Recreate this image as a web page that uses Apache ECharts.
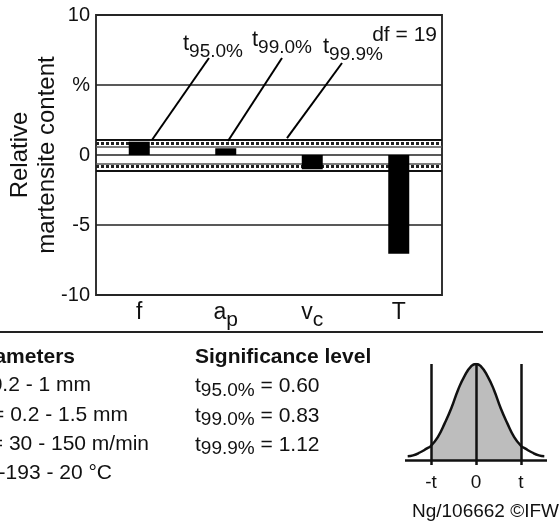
<!DOCTYPE html>
<html>
<head>
<meta charset="utf-8">
<script src="https://cdn.jsdelivr.net/npm/echarts@6/dist/echarts.min.js"></script>
<style>
  html, body { margin: 0; padding: 0; background: #fff; }
  #chart { width: 560px; height: 526px; }
</style>
</head>
<body>
<div id="chart"></div>
<script>
// effect of each parameter on relative martensite content (%)
const catMain = ["f", "a", "v", "T"];
const catSub = ["", "p", "c", ""];
const effects = [0.95, 0.48, -1.02, -7.05];

// t-test limits, df = 19
const tLevels = ["95.0%", "99.0%", "99.9%"];
const tValues = [0.60, 0.83, 1.12];
const dfValue = 19;

const yTicks = [-10, -5, 0, 5, 10];
const yTickLabels = ["-10", "-5", "0", "%", "10"];

// parameter ranges
const paramMain = ["f", "a", "v", "T"];
const paramSub = ["", "p", "c", ""];
const paramRanges = ["0.2 - 1 mm", "0.2 - 1.5 mm", "30 - 150 m/min", "-193 - 20 °C"];

// sketch of the t distribution (x in units of t, relative height)
const curveX = [-1.52, -1.4, -1.25, -1.1, -1.0, -0.85, -0.7, -0.55, -0.4, -0.25, -0.1, 0,
  0.1, 0.25, 0.4, 0.55, 0.7, 0.85, 1.0, 1.1, 1.25, 1.4, 1.52];
const curveY = [0.04, 0.05, 0.08, 0.12, 0.15, 0.24, 0.38, 0.54, 0.73, 0.88, 0.98, 1.0,
  0.98, 0.88, 0.73, 0.54, 0.38, 0.24, 0.15, 0.12, 0.08, 0.05, 0.04];
const tMarks = [-1, 0, 1];
const tMarkLabels = ["-t", "0", "t"];

const FONT = "'Liberation Sans', Arial, sans-serif";

var chartDom = document.getElementById("chart");
var myChart = echarts.init(chartDom);

const curveData = curveX.map((x, i) => [x, curveY[i]]);
const areaData = curveData.filter(p => Math.abs(p[0]) <= 1);

// limit lines, drawn under the bars
const limitLines = [];
tValues.forEach((v, i) => {
  const st = i === 2 ? { color: "#111", width: 2, type: "solid" }
    : i === 1 ? { color: "#222", width: 3, type: [3, 2] }
    : { color: "#555", width: 1.5, type: "solid" };
  limitLines.push({ yAxis: v, lineStyle: st });
  limitLines.push({ yAxis: -v, lineStyle: st });
});

// leader lines from the t labels to the limit band
const leaders = [
  [[1.306, 6.93], [0.647, 1.07]],
  [[2.15, 6.93], [1.526, 1.0]],
  [[2.844, 6.57], [2.208, 1.21]]
];

const subRich = {
  t: { fontSize: 22, fontFamily: FONT, verticalAlign: "bottom", padding: [0, 0, 6, 0] },
  s: { fontSize: 19, fontFamily: FONT, verticalAlign: "bottom" }
};
const botRich = {
  t: { fontSize: 21, fontFamily: FONT, verticalAlign: "bottom", padding: [0, 0, 3, 0] },
  s: { fontSize: 19, fontFamily: FONT, verticalAlign: "bottom" },
  n: { fontSize: 21, fontFamily: FONT, verticalAlign: "bottom", padding: [0, 0, 3, 0] }
};

const graphics = [];
// t labels above the leader lines
const leaderLabelPos = [[183, 47], [252, 43], [323, 50]];
tLevels.forEach((lv, i) => {
  graphics.push({
    type: "text", x: leaderLabelPos[i][0], y: leaderLabelPos[i][1],
    style: { text: "{t|t}{s|" + lv + "}", rich: subRich, fill: "#111", align: "left", verticalAlign: "middle" }
  });
});
graphics.push({
  type: "text", x: 437, y: 35,
  style: { text: "df = " + dfValue, font: "21px " + FONT, fill: "#111", align: "right", verticalAlign: "middle" }
});
// separator
graphics.push({
  type: "line", shape: { x1: 0, y1: 332, x2: 543, y2: 332 },
  style: { stroke: "#222", lineWidth: 2 }
});
// parameter column (cut at the left edge)
graphics.push({
  type: "text", x: 75, y: 357,
  style: { text: "Parameters", font: "bold 21px " + FONT, fill: "#111", align: "right", verticalAlign: "middle" }
});
const paramEnds = [91, 128, 149, 112];
paramRanges.forEach((r, i) => {
  const head = paramSub[i] ? "{n|" + paramMain[i] + "}{s|" + paramSub[i] + "}" : "{n|" + paramMain[i] + "}";
  graphics.push({
    type: "text", x: paramEnds[i], y: 387 + i * 29.3,
    style: { text: head + "{n| = " + r + "}", rich: botRich, fill: "#111", align: "right", verticalAlign: "middle" }
  });
});
// significance column
graphics.push({
  type: "text", x: 195, y: 357,
  style: { text: "Significance level", font: "bold 21px " + FONT, fill: "#111", align: "left", verticalAlign: "middle" }
});
tLevels.forEach((lv, i) => {
  graphics.push({
    type: "text", x: 195, y: 388 + i * 29.3,
    style: { text: "{t|t}{s|" + lv + "}{n| = " + tValues[i].toFixed(2) + "}", rich: botRich, fill: "#111", align: "left", verticalAlign: "middle" }
  });
});
graphics.push({
  type: "text", x: 559, y: 512,
  style: { text: "Ng/106662 ©IFW", font: "19px " + FONT, fill: "#111", align: "right", verticalAlign: "middle" }
});

var option = {
  backgroundColor: "#fff",
  animation: false,
  grid: [
    { left: 96, top: 15, right: 118, bottom: 231, show: true, borderColor: "#333", borderWidth: 2, outerBoundsMode: "none" },
    { left: 405, top: 364, width: 142, height: 101, outerBoundsMode: "none" }
  ],
  xAxis: [
    {
      type: "category", gridIndex: 0, data: catMain.map((c, i) => c + "|" + catSub[i]),
      axisLine: { show: false }, axisTick: { show: false },
      axisLabel: {
        margin: 6, color: "#111",
        formatter: v => {
          const p = v.split("|");
          return "{m|" + p[0] + "}" + (p[1] ? "{s|" + p[1] + "}" : "");
        },
        rich: {
          m: { fontSize: 23, fontFamily: FONT, verticalAlign: "bottom", padding: [0, 0, 7, 0] },
          s: { fontSize: 21, fontFamily: FONT, verticalAlign: "bottom" }
        }
      }
    },
    { type: "value", gridIndex: 0, min: 0, max: 4, show: false },
    {
      type: "value", gridIndex: 1, min: -1.58, max: 1.58,
      splitLine: { show: false }, axisLine: { show: false }, axisTick: { show: false },
      axisLabel: {
        customValues: tMarks, margin: 8, fontSize: 19, fontFamily: FONT, color: "#111",
        formatter: v => tMarkLabels[tMarks.indexOf(v)]
      }
    }
  ],
  yAxis: [
    {
      type: "value", gridIndex: 0, min: -10, max: 10, interval: 5,
      name: "Relative\nmartensite content", nameLocation: "middle", nameGap: 35, nameMoveOverlap: false,
      nameTextStyle: { fontSize: 24, fontFamily: FONT, color: "#111", lineHeight: 27 },
      axisLine: { show: false }, axisTick: { show: false },
      axisLabel: {
        margin: 6, fontSize: 20, fontFamily: FONT, color: "#111",
        formatter: v => yTickLabels[yTicks.indexOf(v)]
      },
      splitLine: { lineStyle: { color: "#222", width: 1.5 } }
    },
    { type: "value", gridIndex: 1, min: -0.05, max: 1, show: false }
  ],
  graphic: graphics,
  series: [
    {
      name: "limits", type: "line", xAxisIndex: 0, yAxisIndex: 0, data: [], z: 1,
      markLine: { silent: true, symbol: "none", label: { show: false }, z: 1, data: limitLines }
    },
    {
      name: "effect", type: "bar", xAxisIndex: 0, yAxisIndex: 0, data: effects,
      barWidth: 21, itemStyle: { color: "#000" }, z: 3
    },
    ...leaders.map(l => ({
      type: "line", xAxisIndex: 1, yAxisIndex: 0, data: l, symbol: "none", z: 4,
      lineStyle: { color: "#000", width: 2 }
    })),
    {
      name: "area", type: "line", xAxisIndex: 2, yAxisIndex: 1, data: areaData, smooth: true,
      symbol: "none", lineStyle: { width: 0 }, areaStyle: { color: "#bdbdbd", opacity: 1 }, z: 1
    },
    {
      name: "curve", type: "line", xAxisIndex: 2, yAxisIndex: 1, data: curveData, smooth: true,
      symbol: "none", lineStyle: { color: "#111", width: 2.5 }, z: 2,
      markLine: {
        silent: true, symbol: "none", label: { show: false },
        lineStyle: { color: "#111", width: 2.5, type: "solid" },
        data: tMarks.map(x => ({ xAxis: x })).concat([{ yAxis: 0 }])
      }
    }
  ]
};

option && myChart.setOption(option);
</script>
</body>
</html>
